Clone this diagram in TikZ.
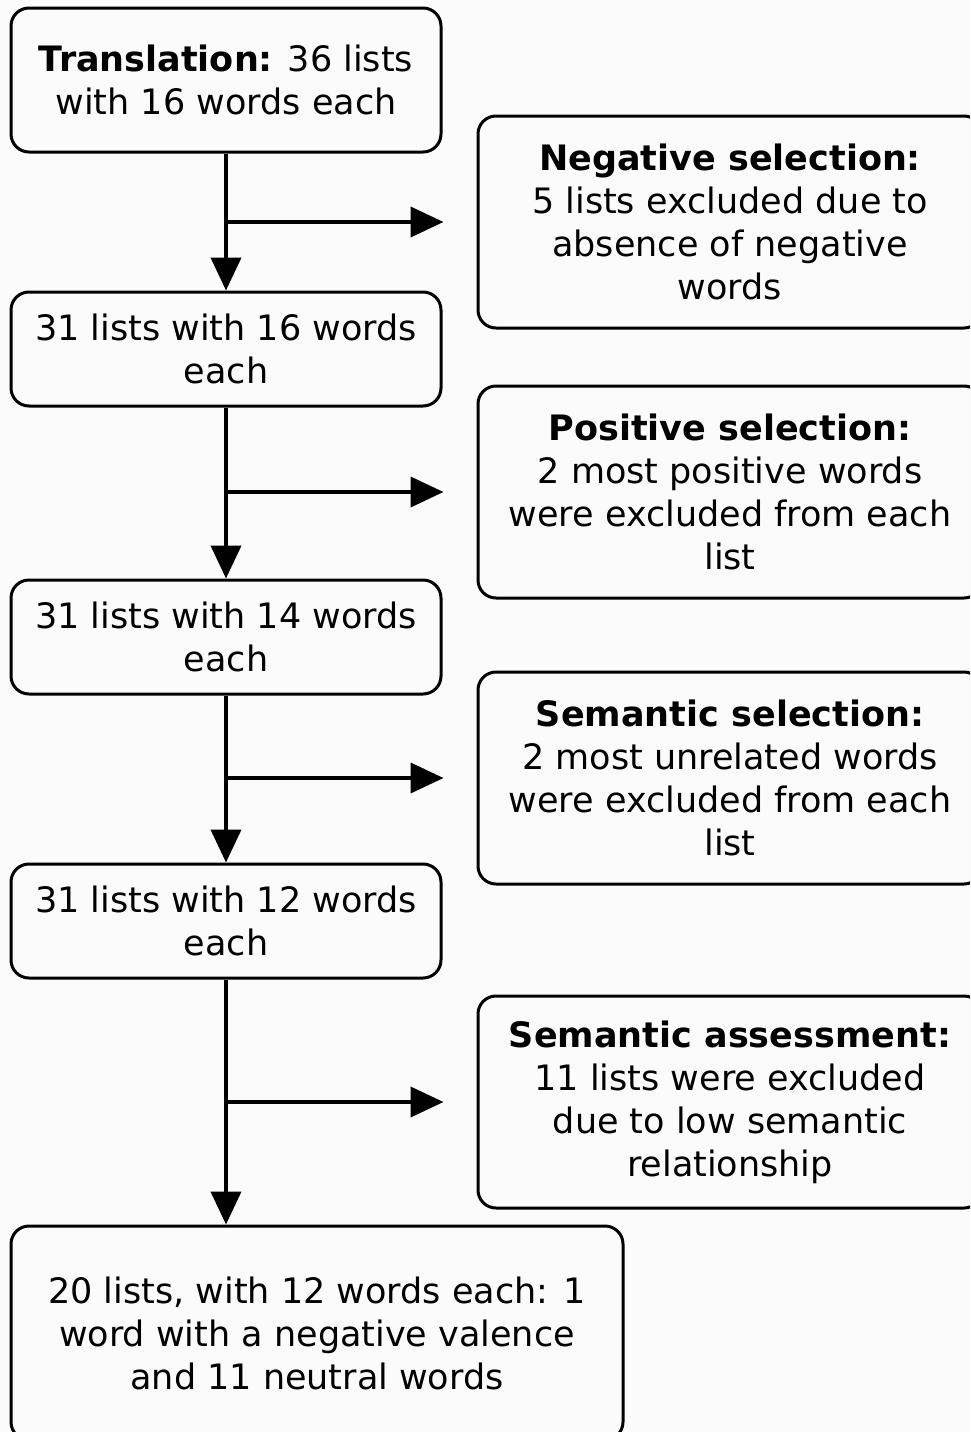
\documentclass[tikz,border=0pt]{standalone}
\usepackage{fontspec}
\setmainfont{DejaVu Sans}
\usetikzlibrary{arrows.meta}
\definecolor{bgc}{RGB}{251,251,251}
\begin{document}
\begin{tikzpicture}[x=1pt,y=-1pt,
  box/.style={draw=black,line width=3pt,rounded corners=18pt,fill=bgc,
    align=center,font=\fontsize{35}{43}\selectfont,inner sep=0pt},
  lbox/.style={box,minimum width=430pt},
  rbox/.style={box,minimum width=504pt,minimum height=212pt},
  flow/.style={line width=4pt,-{Triangle[length=33pt,width=30pt]}}]
\clip (0,0) rectangle (970,1432);
\fill[bgc] (0,0) rectangle (970,1432);
\node[lbox,minimum height=144pt] (a) at (226,80) {\textbf{Translation:} 36 lists\\with 16 words each};
\node[lbox,minimum height=114pt] (b) at (226,349) {31 lists with 16 words\\each};
\node[lbox,minimum height=114pt] (c) at (226,637) {31 lists with 14 words\\each};
\node[lbox,minimum height=114pt] (d) at (226,921) {31 lists with 12 words\\each};
\node[box,minimum width=612pt,minimum height=214pt] (e) at (317,1333) {20 lists, with 12 words each: 1\\word with a negative valence\\and 11 neutral words};
\node[rbox] (r1) at (730,222) {\textbf{Negative selection:}\\5 lists excluded due to\\absence of negative\\words};
\node[rbox] (r2) at (730,492) {\textbf{Positive selection:}\\2 most positive words\\were excluded from each\\list};
\node[rbox] (r3) at (730,778) {\textbf{Semantic selection:}\\2 most unrelated words\\were excluded from each\\list};
\node[rbox] (r4) at (730,1102) {\textbf{Semantic assessment:}\\11 lists were excluded\\due to low semantic\\relationship};
\draw[flow] (a.south) -- (b.north);
\draw[flow] (b.south) -- (c.north);
\draw[flow] (c.south) -- (d.north);
\draw[flow] (d.south) -- (d.south |- e.north);
\coordinate (j1) at (a.south |- r1.west);
\coordinate (j2) at (b.south |- r2.west);
\coordinate (j3) at (c.south |- r3.west);
\coordinate (j4) at (d.south |- r4.west);
\draw[flow] (j1) -- ([xshift=-33pt]r1.west);
\draw[flow] (j2) -- ([xshift=-33pt]r2.west);
\draw[flow] (j3) -- ([xshift=-33pt]r3.west);
\draw[flow] (j4) -- ([xshift=-33pt]r4.west);
\end{tikzpicture}
\end{document}
